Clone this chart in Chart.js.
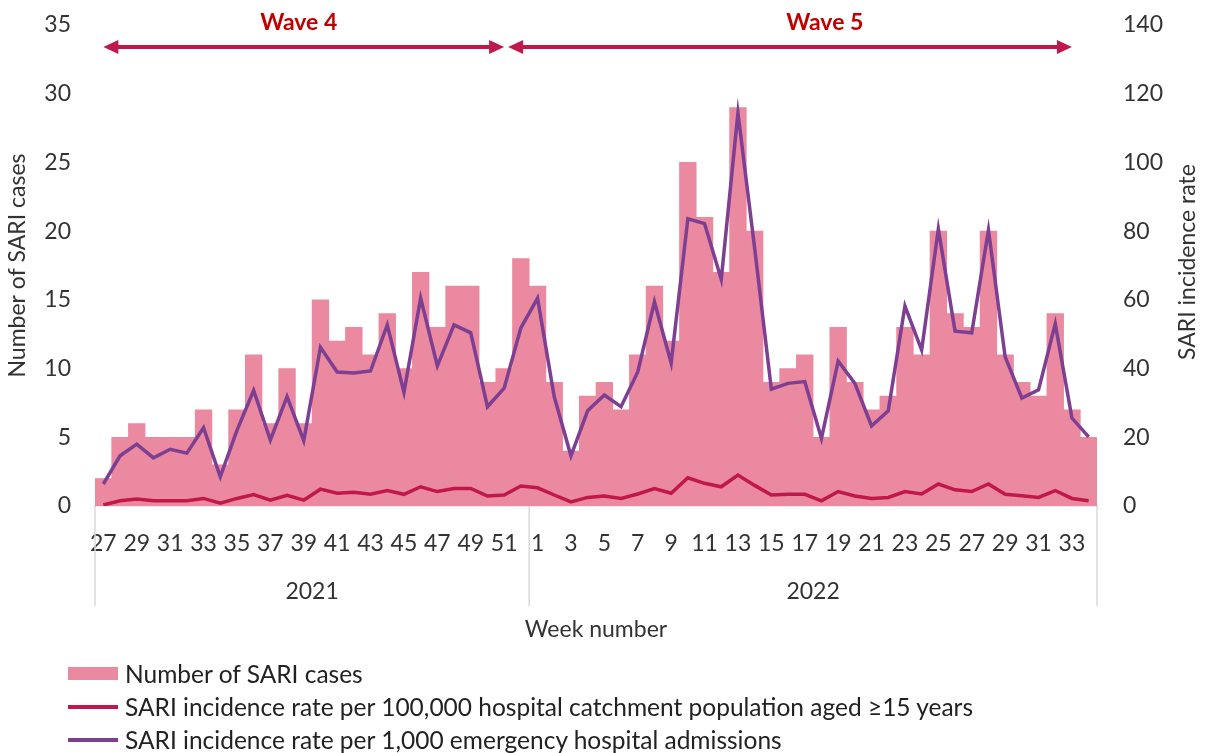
<!DOCTYPE html>
<html>
<head>
<meta charset="utf-8">
<title>SARI cases and incidence rate by week</title>
<script src="https://cdn.jsdelivr.net/npm/chart.js@4.4.1/dist/chart.umd.min.js"></script>
<style>
  html, body { margin: 0; padding: 0; background: #fff; }
  #wrap { position: relative; width: 1207px; height: 753px; font-family: Lato, "Open Sans", sans-serif; }
  #legend { position: absolute; left: 68px; top: 657px; color: #222; font-size: 24.5px; }
  .item { display: flex; align-items: center; height: 33px; }
  .swatch { width: 50px; margin-right: 7px; }
</style>
</head>
<body>
<div id="wrap">
  <canvas id="sariChart" width="1207" height="753"></canvas>
  <div id="legend"></div>
</div>
<script>
// week numbers: 2021 week 27-52, then 2022 week 1-34
const weekLabels = [27, 28, 29, 30, 31, 32, 33, 34, 35, 36, 37, 38, 39, 40, 41, 42, 43, 44, 45, 46, 47, 48, 49, 50, 51, 52,
  1, 2, 3, 4, 5, 6, 7, 8, 9, 10, 11, 12, 13, 14, 15, 16, 17, 18, 19, 20, 21, 22, 23, 24, 25, 26, 27, 28, 29, 30, 31, 32, 33, 34];
const yearLabels = ['2021', '2022'];
const yearWeekCounts = [26, 34];

const sariCases = [2, 5, 6, 5, 5, 5, 7, 3, 7, 11, 6, 10, 6, 15, 12, 13, 11, 14, 10, 17, 13, 16, 16, 9, 10, 18,
  16, 9, 4, 8, 9, 7, 11, 16, 12, 25, 21, 17, 29, 20, 9, 10, 11, 5, 13, 9, 7, 8, 13, 11, 20, 14, 13, 20, 11, 9, 8, 14, 7, 5];

const ratePer100k = [0.3, 1.5, 2, 1.5, 1.5, 1.5, 2.2, 0.8, 2.2, 3.3, 1.7, 3.1, 1.7, 4.9, 3.7, 4, 3.4, 4.5, 3.4, 5.6, 4.2, 5.1, 5.1, 2.9, 3.2, 5.8,
  5.3, 3.2, 1.2, 2.5, 2.9, 2.2, 3.5, 5.1, 3.7, 8.2, 6.6, 5.6, 9, 6, 3.2, 3.4, 3.4, 1.5, 4.2, 2.9, 2.2, 2.5, 4.2, 3.5, 6.4, 4.7, 4.2, 6.4, 3.4, 3, 2.5, 4.5, 2.2, 1.5];

const ratePer1000 = [6.4, 14.6, 18, 14, 16.5, 15.4, 22.8, 8.5, 22, 33.6, 19.2, 31.8, 19, 46.2, 39, 38.7, 39.3, 52.7, 33.1, 60.5, 40.8, 52.7, 50.4, 28.9, 34.3, 51.8,
  60.5, 31.8, 14.6, 27.7, 32.3, 28.9, 39, 59.4, 41.6, 83.6, 82.2, 66, 114.4, 75, 34, 35.7, 36.2, 19.7, 42.2, 35.7, 23.3, 27.7, 58.2, 45.4, 80.6, 50.9, 50.4, 80.3, 43.4, 31.4, 33.8, 53, 25.6, 20.1];

// waves: start/end as bar index, label position as bar index
const waveLabels = ['Wave 4', 'Wave 5'];
const waveStart = [0, 24];
const waveEnd = [24, 58];
const waveLabelAt = [11.7, 43.2];

const FONT = 'Lato, "Open Sans", sans-serif';
const TEXT = '#333333';
const AXIS_GREY = '#d9d9d9';
const PINK = '#ea89a0';
const RED = '#c0184a';
const PURPLE = '#7d3f91';

// year groups, dividers, axis title on the right and the wave arrows
const extrasPlugin = {
  id: 'extras',
  afterDraw(chart) {
    const ctx = chart.ctx;
    const x = chart.scales.x;
    const area = chart.chartArea;
    ctx.save();

    // dividers and year labels below the week ticks
    const edges = [x.left];
    let idx = 0;
    yearWeekCounts.forEach((n, i) => {
      idx += n;
      if (i < yearWeekCounts.length - 1) {
        edges.push((x.getPixelForValue(idx - 1) + x.getPixelForValue(idx)) / 2);
      }
    });
    edges.push(x.right);

    ctx.strokeStyle = AXIS_GREY;
    ctx.lineWidth = 1.5;
    edges.forEach(px => {
      ctx.beginPath();
      ctx.moveTo(px, area.bottom);
      ctx.lineTo(px, 606);
      ctx.stroke();
    });

    ctx.fillStyle = TEXT;
    ctx.font = '23px ' + FONT;
    ctx.textAlign = 'center';
    ctx.textBaseline = 'middle';
    yearLabels.forEach((lab, i) => {
      ctx.fillText(lab, (edges[i] + edges[i + 1]) / 2, 592);
    });
    ctx.fillText('Week number', (x.left + x.right) / 2, 630);

    // right axis title, reads bottom to top
    ctx.save();
    ctx.translate(1188, 262);
    ctx.rotate(-Math.PI / 2);
    ctx.fillText('SARI incidence rate', 0, 0);
    ctx.restore();

    // wave arrows
    const arrowY = 47;
    const head = 15;
    ctx.strokeStyle = RED;
    ctx.fillStyle = RED;
    ctx.lineWidth = 4;
    waveLabels.forEach((lab, i) => {
      let x0 = x.getPixelForValue(waveStart[i]);
      let x1 = x.getPixelForValue(waveEnd[i]);
      if (i > 0) x0 += 4;
      ctx.beginPath();
      ctx.moveTo(x0 + head - 2, arrowY);
      ctx.lineTo(x1 - head + 2, arrowY);
      ctx.stroke();
      ctx.beginPath();
      ctx.moveTo(x0, arrowY);
      ctx.lineTo(x0 + head, arrowY - 7);
      ctx.lineTo(x0 + head, arrowY + 7);
      ctx.closePath();
      ctx.fill();
      ctx.beginPath();
      ctx.moveTo(x1, arrowY);
      ctx.lineTo(x1 - head, arrowY - 7);
      ctx.lineTo(x1 - head, arrowY + 7);
      ctx.closePath();
      ctx.fill();
    });
    ctx.fillStyle = '#c00000';
    ctx.font = 'bold 23px ' + FONT;
    waveLabels.forEach((lab, i) => {
      ctx.fillText(lab, x.getPixelForValue(waveLabelAt[i]), 23);
    });

    ctx.restore();
  }
};

const tickFont = { family: FONT, size: 23 };

// fixed axis sizes so the plot area lands where the reference has it
function fitVertical(width) {
  return s => {
    s.width = width;
    s.paddingTop = 0;
    s.paddingBottom = 0;
  };
}

const chart = new Chart(document.getElementById('sariChart'), {
  data: {
    labels: weekLabels.map(String),
    datasets: [
      {
        type: 'line',
        label: 'SARI incidence rate per 1,000 emergency hospital admissions',
        data: ratePer1000,
        yAxisID: 'y1',
        borderColor: PURPLE,
        backgroundColor: PURPLE,
        borderWidth: 3.5,
        pointRadius: 0,
        tension: 0,
        order: 1
      },
      {
        type: 'line',
        label: 'SARI incidence rate per 100,000 hospital catchment population aged \u226515 years',
        data: ratePer100k,
        yAxisID: 'y1',
        borderColor: RED,
        backgroundColor: RED,
        borderWidth: 3.5,
        pointRadius: 0,
        tension: 0,
        order: 2
      },
      {
        type: 'bar',
        label: 'Number of SARI cases',
        data: sariCases,
        yAxisID: 'y',
        backgroundColor: PINK,
        borderColor: PINK,
        borderWidth: 0,
        barPercentage: 1,
        categoryPercentage: 1,
        order: 3
      }
    ]
  },
  options: {
    responsive: false,
    animation: false,
    layout: { padding: { top: 25, left: 0, right: 0, bottom: 0 } },
    plugins: {
      legend: { display: false },
      tooltip: { enabled: false }
    },
    scales: {
      x: {
        type: 'category',
        offset: true,
        grid: { display: false, drawTicks: false },
        border: { display: true, color: AXIS_GREY, width: 1.5 },
        ticks: {
          autoSkip: false,
          maxRotation: 0,
          minRotation: 0,
          padding: 24,
          color: TEXT,
          font: tickFont,
          callback: (val, i) => (weekLabels[i] % 2 === 1 ? String(weekLabels[i]) : '')
        },
        afterFit: s => { s.height = 247; }
      },
      y: {
        position: 'left',
        min: 0,
        max: 35,
        grid: { display: false, drawTicks: false },
        border: { display: false },
        ticks: { stepSize: 5, padding: 24, color: TEXT, font: tickFont },
        title: {
          display: true,
          text: 'Number of SARI cases',
          color: TEXT,
          font: tickFont,
          padding: { top: 4, bottom: 0 }
        },
        afterFit: fitVertical(95)
      },
      y1: {
        position: 'right',
        min: 0,
        max: 140,
        grid: { display: false, drawTicks: false },
        border: { display: false },
        ticks: { stepSize: 20, padding: 26, color: TEXT, font: tickFont },
        afterFit: fitVertical(110)
      }
    }
  },
  plugins: [extrasPlugin]
});

// html legend in the reference order: bars, red line, purple line
const legendEl = document.getElementById('legend');
[2, 1, 0].forEach(i => {
  const ds = chart.data.datasets[i];
  const row = document.createElement('div');
  row.className = 'item';
  const sw = document.createElement('span');
  sw.className = 'swatch';
  if (ds.type === 'bar') {
    sw.style.height = '13px';
    sw.style.background = ds.backgroundColor;
  } else {
    sw.style.height = '4px';
    sw.style.background = ds.borderColor;
  }
  const txt = document.createElement('span');
  txt.textContent = ds.label;
  row.appendChild(sw);
  row.appendChild(txt);
  legendEl.appendChild(row);
});
</script>
</body>
</html>
